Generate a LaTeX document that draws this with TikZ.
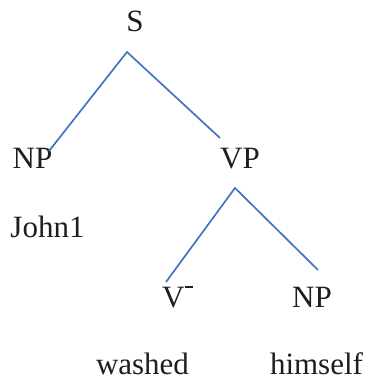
\documentclass[tikz,border=0pt]{standalone}
\usepackage{fontspec}
\setmainfont{Liberation Serif}
\definecolor{branch}{RGB}{68,114,196}
\definecolor{ink}{RGB}{30,30,30}
\begin{document}
\begin{tikzpicture}[x=1pt,y=1pt,
  lab/.style={anchor=base,inner sep=0pt,text=ink,font=\fontsize{31}{37}\selectfont},
  edge/.style={draw=branch,line width=1.7pt}]
\useasboundingbox (0,0) rectangle (369,381);
\node[lab] (S) at (135,349) {S};
\node[lab] (NPa) at (32.5,212) {NP};
\node[lab] (VP) at (240,212) {VP};
\node[lab] (John) at (47.5,143) {John1};
\node[lab,anchor=base west] (V) at (162,74) {V\kern0.02em\raisebox{0.6em}{\rule{0.26em}{0.085em}}};
\node[lab] (NPb) at (312,74) {NP};
\node[lab] (washed) at (142.5,6) {washed};
\node[lab] (himself) at (316.5,6) {himself};
\coordinate (s0) at (127,329);
\coordinate (s1) at (49,230);
\coordinate (s2) at (220,243);
\coordinate (v0) at (235,193);
\coordinate (v1) at (166,99);
\coordinate (v2) at (318,111);
\draw[edge] (s1) -- (s0) -- (s2);
\draw[edge] (v1) -- (v0) -- (v2);
\end{tikzpicture}
\end{document}
